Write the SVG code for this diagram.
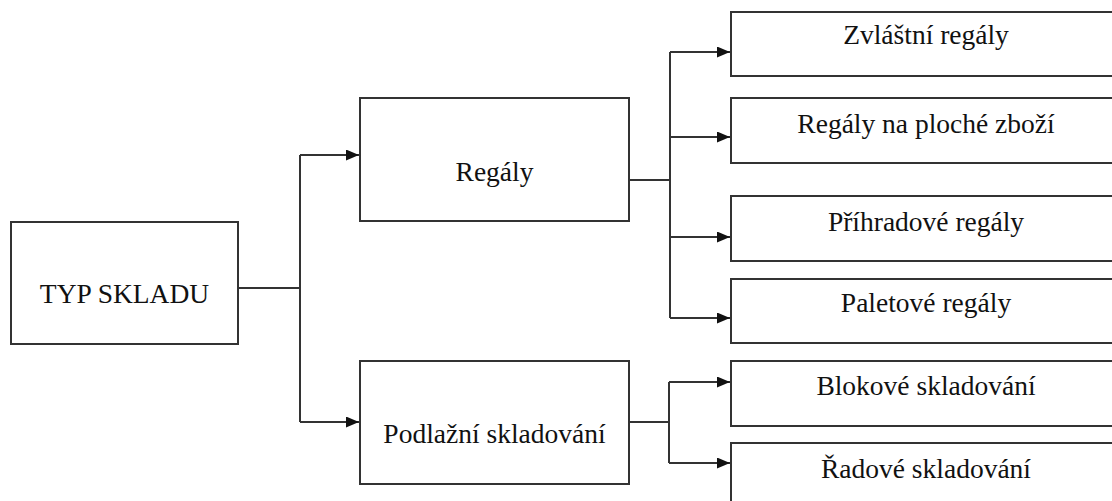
<svg xmlns="http://www.w3.org/2000/svg" width="1112" height="501" viewBox="0 0 1112 501">
<defs>
<style>
.box{fill:#fff;stroke:#333;stroke-width:2}
.ln{fill:none;stroke:#333;stroke-width:2}
text{font-family:"Liberation Serif","Times New Roman",serif;font-size:27.5px;fill:#111;text-anchor:middle}
</style>
<marker id="ah" viewBox="0 0 13 11" refX="13" refY="5.5" markerWidth="13" markerHeight="11" markerUnits="userSpaceOnUse" orient="auto">
<path d="M0,0 L13,5.5 L0,11 Z" fill="#111"/>
</marker>
</defs>
<rect width="1112" height="501" fill="#fff"/>
<g id="connectors">
<path class="ln" d="M238,288 H300"/>
<path class="ln" d="M300,155 V422"/>
<path class="ln" d="M300,155 H359" marker-end="url(#ah)"/>
<path class="ln" d="M300,422 H359" marker-end="url(#ah)"/>
<path class="ln" d="M629,180 H670"/>
<path class="ln" d="M670,52 V318"/>
<path class="ln" d="M670,52 H730" marker-end="url(#ah)"/>
<path class="ln" d="M670,137 H730" marker-end="url(#ah)"/>
<path class="ln" d="M670,237 H730" marker-end="url(#ah)"/>
<path class="ln" d="M670,318 H730" marker-end="url(#ah)"/>
<path class="ln" d="M629,422 H669"/>
<path class="ln" d="M669,382 V463"/>
<path class="ln" d="M669,382 H730" marker-end="url(#ah)"/>
<path class="ln" d="M669,463 H730" marker-end="url(#ah)"/>
</g>
<g id="typ"><rect class="box" x="11" y="222" width="227" height="122"/><text x="124.5" y="303">TYP SKLADU</text></g>
<g id="regaly"><rect class="box" x="360" y="98" width="269" height="123"/><text x="494.5" y="181">Regály</text></g>
<g id="podlazni"><rect class="box" x="360" y="361" width="269" height="123"/><text x="494.5" y="443">Podlažní skladování</text></g>
<g id="zvlastni"><rect class="box" x="731" y="12" width="390" height="64"/><text x="926" y="44">Zvláštní regály</text></g>
<g id="ploche"><rect class="box" x="731" y="98" width="390" height="65"/><text x="926" y="133">Regály na ploché zboží</text></g>
<g id="prihradove"><rect class="box" x="731" y="196" width="390" height="65"/><text x="926" y="231">Příhradové regály</text></g>
<g id="paletove"><rect class="box" x="731" y="279" width="390" height="64"/><text x="926" y="312">Paletové regály</text></g>
<g id="blokove"><rect class="box" x="731" y="361" width="390" height="65"/><text x="926" y="395">Blokové skladování</text></g>
<g id="radove"><rect class="box" x="731" y="443" width="390" height="70"/><text x="926" y="478">Řadové skladování</text></g>
</svg>
